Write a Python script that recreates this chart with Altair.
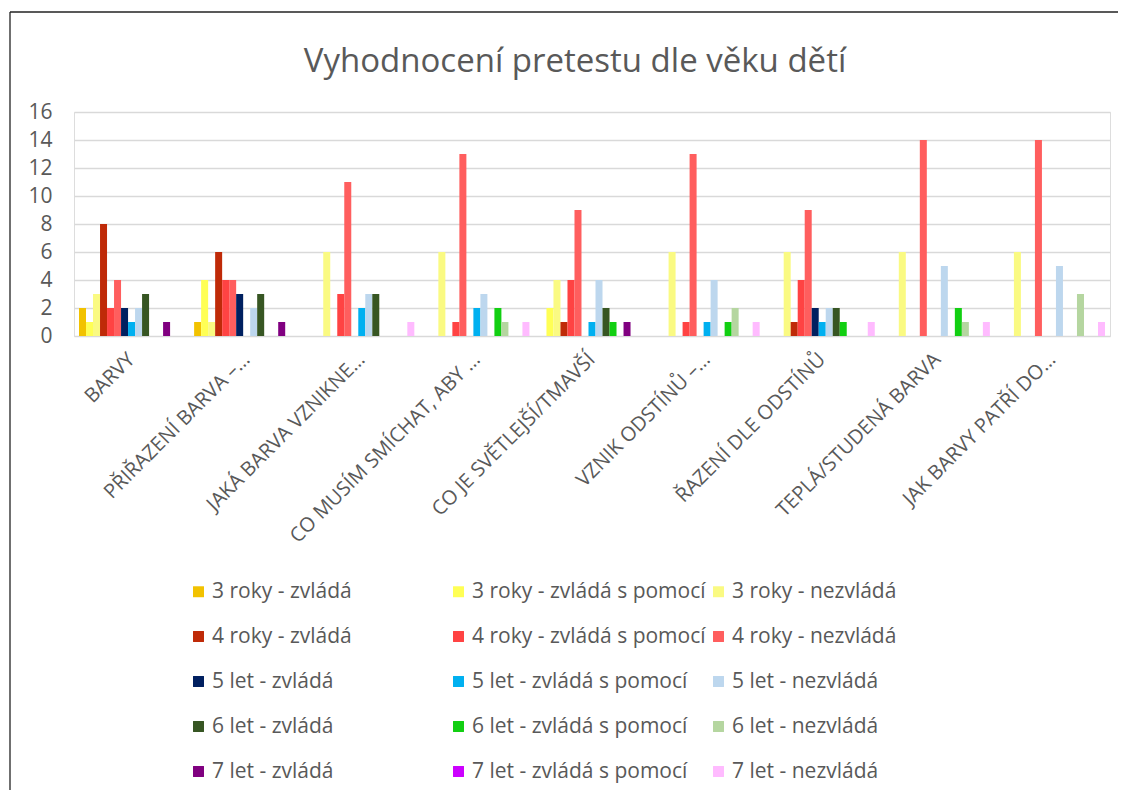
import altair as alt
import pandas as pd

categories = [
    "BARVY",
    "PŘIŘAZENÍ BARVA –…",
    "JAKÁ BARVA VZNIKNE…",
    "CO MUSÍM SMÍCHAT, ABY …",
    "CO JE SVĚTLEJŠÍ/TMAVŠÍ",
    "VZNIK ODSTÍNŮ –…",
    "ŘAZENÍ DLE ODSTÍNŮ",
    "TEPLÁ/STUDENÁ BARVA",
    "JAK BARVY PATŘÍ DO…",
]

series_names = [
    "3 roky - zvládá", "3 roky - zvládá s pomocí", "3 roky - nezvládá",
    "4 roky - zvládá", "4 roky - zvládá s pomocí", "4 roky - nezvládá",
    "5 let - zvládá", "5 let - zvládá s pomocí", "5 let - nezvládá",
    "6 let - zvládá", "6 let - zvládá s pomocí", "6 let - nezvládá",
    "7 let - zvládá", "7 let - zvládá s pomocí", "7 let - nezvládá",
]

series_colors = [
    "#F2C200", "#FFFF55", "#FAFA82",
    "#BF2A08", "#FF4343", "#FF5E5E",
    "#002060", "#00B0F0", "#BDD7EE",
    "#375623", "#12CF12", "#B5D6A0",
    "#800080", "#CC00FF", "#FFBBFF",
]

v3_z = [2, 1, 0, 0, 0, 0, 0, 0, 0]
v3_zp = [1, 4, 0, 0, 2, 0, 0, 0, 0]
v3_n = [3, 1, 6, 6, 4, 6, 6, 6, 6]
v4_z = [8, 6, 0, 0, 1, 0, 1, 0, 0]
v4_zp = [2, 4, 3, 1, 4, 1, 4, 0, 0]
v4_n = [4, 4, 11, 13, 9, 13, 9, 14, 14]
v5_z = [2, 3, 0, 0, 0, 0, 2, 0, 0]
v5_zp = [1, 0, 2, 2, 1, 1, 1, 0, 0]
v5_n = [2, 2, 3, 3, 4, 4, 2, 5, 5]
v6_z = [3, 3, 3, 0, 2, 0, 2, 0, 0]
v6_zp = [0, 0, 0, 2, 1, 1, 1, 2, 0]
v6_n = [0, 0, 0, 1, 0, 2, 0, 1, 3]
v7_z = [1, 1, 0, 0, 1, 0, 0, 0, 0]
v7_zp = [0, 0, 0, 0, 0, 0, 0, 0, 0]
v7_n = [0, 0, 1, 1, 0, 1, 1, 1, 1]

series_values = [v3_z, v3_zp, v3_n, v4_z, v4_zp, v4_n, v5_z, v5_zp, v5_n,
                 v6_z, v6_zp, v6_n, v7_z, v7_zp, v7_n]

y_ticks = [0, 2, 4, 6, 8, 10, 12, 14, 16]

rows = []
for name, vals in zip(series_names, series_values):
    for cat, v in zip(categories, vals):
        rows.append({"kategorie": cat, "serie": name, "hodnota": v})
df = pd.DataFrame(rows)

FONT = "Open Sans"
TXT = "#595959"

bars = alt.Chart(df).mark_bar().encode(
    x=alt.X("kategorie:N", sort=categories, title=None,
            scale=alt.Scale(paddingInner=0.087, paddingOuter=0.0435),
            axis=alt.Axis(labelAngle=-45, labelFontSize=20, labelColor=TXT,
                          labelFont=FONT, labelPadding=20, labelAlign="right",
                          labelBaseline="middle", ticks=False,
                          domain=False, labelLimit=400)),
    xOffset=alt.XOffset("serie:N", sort=series_names,
                        scale=alt.Scale(paddingInner=0, paddingOuter=0)),
    y=alt.Y("hodnota:Q", title=None,
            scale=alt.Scale(domain=[0, 16], nice=False),
            axis=alt.Axis(values=y_ticks, labelFontSize=21, labelColor=TXT,
                          labelFont=FONT, labelPadding=22, ticks=False,
                          domain=False, gridColor="#D9D9D9", gridWidth=1.4)),
    color=alt.Color("serie:N", sort=series_names, title=None,
                    scale=alt.Scale(domain=series_names, range=series_colors),
                    legend=alt.Legend(orient="none", legendX=114, legendY=469,
                                      direction="horizontal",
                                      columns=3, gridAlign="all",
                                      columnPadding=2, rowPadding=23,
                                      symbolType="square", symbolSize=120,
                                      symbolStrokeWidth=0,
                                      labelFontSize=21, labelColor=TXT,
                                      labelFont=FONT, labelOffset=3,
                                      labelLimit=400)),
)

frame_df = pd.DataFrame({"k": [0]})
left_border = alt.Chart(frame_df).mark_rule(color="#222222", strokeWidth=1.3).encode(
    x=alt.value(-64), y=alt.value(-100), y2=alt.value(700))
top_border = alt.Chart(frame_df).mark_rule(color="#222222", strokeWidth=1.3).encode(
    x=alt.value(-64), x2=alt.value(1100), y=alt.value(-100))

chart = alt.layer(bars, left_border, top_border).properties(
    width=1036, height=224,
    title=alt.TitleParams("Vyhodnocení pretestu dle věku dětí", fontSize=33,
                          font=FONT, color=TXT, fontWeight="normal",
                          anchor="middle", offset=-68, dx=-17),
    autosize=alt.AutoSizeParams(type="none"),
    padding={"left": 66, "top": 104, "right": 8, "bottom": 454},
).configure_view(stroke=None).configure(background="white")

chart.save("out.html", embed_options={"renderer": "svg", "actions": False})
